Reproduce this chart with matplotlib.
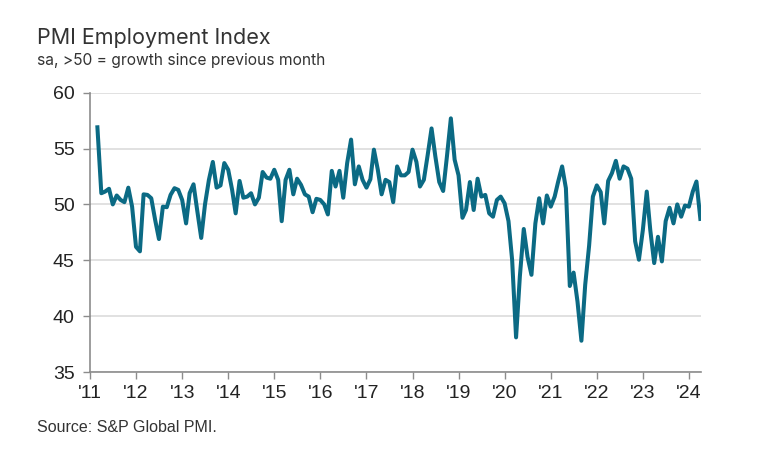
import pandas as pd
import matplotlib.pyplot as plt
import matplotlib.dates as mdates

# PMI 고용지수 (월별, 2011년 3월 ~ 2024년 4월)
start_month = '2011-03'
employment = [
    56.9, 51.0, 51.15, 51.4, 50.0, 50.8, 50.4, 50.2, 51.5, 49.8,
    46.2, 45.8, 50.9, 50.85, 50.55, 48.6, 46.9, 49.8, 49.75, 50.85,
    51.45, 51.3, 50.4, 48.3, 51.0, 51.8, 49.4, 47.0, 50.0, 52.2,
    53.8, 51.5, 51.7, 53.7, 53.1, 51.3, 49.2, 52.1, 50.6, 50.7,
    51.0, 50.0, 50.6, 52.9, 52.4, 52.3, 53.1, 52.2, 48.5, 52.2,
    53.1, 50.9, 52.3, 51.75, 50.9, 50.7, 49.3, 50.5, 50.4, 50.0,
    49.1, 53.0, 51.6, 53.0, 50.6, 53.7, 55.8, 51.8, 53.4, 52.2,
    51.5, 52.25, 54.9, 53.1, 50.9, 52.2, 52.0, 50.2, 53.4, 52.6,
    52.6, 52.9, 54.9, 53.8, 51.6, 52.2, 54.4, 56.8, 54.3, 52.0,
    51.2, 54.3, 57.7, 54.0, 52.6, 48.8, 49.5, 52.0, 49.5, 52.3,
    50.7, 50.85, 49.2, 48.9, 50.4, 50.7, 50.1, 48.5, 45.0, 38.1,
    43.55, 47.8, 45.3, 43.7, 48.3, 50.55, 48.3, 50.8, 49.8, 50.7,
    52.05, 53.4, 51.45, 42.7, 43.9, 41.3, 37.8, 42.8, 46.3, 50.7,
    51.7, 51.1, 48.3, 52.1, 52.8, 53.9, 52.3, 53.4, 53.2, 52.3,
    46.7, 45.05, 47.7, 51.15, 47.7, 44.75, 47.1, 44.9, 48.5, 49.7,
    48.3, 50.0, 48.9, 49.9, 49.8, 51.15, 52.05, 48.7,
]
year_ticks = list(range(2011, 2025))
year_labels = ["'" + str(y)[2:] for y in year_ticks]
y_ticks = [35, 40, 45, 50, 55, 60]

dates = pd.date_range(start_month, periods=len(employment), freq='MS')

line_color = '#0b6a84'
grid_color = '#dcdcdc'
spine_color = '#8c8c8c'
text_color = '#333333'
tick_font = ['Liberation Sans Narrow', 'Liberation Sans', 'DejaVu Sans']

fig = plt.figure(figsize=(7.65, 4.61), dpi=100)
ax = fig.add_axes([0.1176, 0.193, 0.7984, 0.606])

ax.plot(dates, employment, color=line_color, linewidth=2.9, solid_joinstyle='round')

ax.set_ylim(35, 60)
ax.set_yticks(y_ticks)
ax.set_xlim(pd.Timestamp('2011-01-01'), dates[-1] + pd.Timedelta(days=3))
ax.set_xticks([pd.Timestamp(f'{y}-01-01') for y in year_ticks])
ax.set_xticklabels(year_labels)

ax.grid(axis='y', color=grid_color, linewidth=1.2)
ax.set_axisbelow(True)
for side in ['top', 'right']:
    ax.spines[side].set_visible(False)
for side in ['left', 'bottom']:
    ax.spines[side].set_color(spine_color)
    ax.spines[side].set_linewidth(1.2)

ax.tick_params(axis='both', colors=spine_color, length=5, width=1.0, labelcolor='#222222')
ax.tick_params(axis='y', pad=6)
ax.tick_params(axis='x', pad=4)
for lbl in ax.get_xticklabels() + ax.get_yticklabels():
    lbl.set_family(tick_font)
    lbl.set_fontsize(14)

fig.text(0.048, 0.918, 'PMI Employment Index', fontsize=15.5, color=text_color,
         family=['Inter', 'DejaVu Sans'], va='center', ha='left')
fig.text(0.048, 0.869, 'sa, >50 = growth since previous month', fontsize=11.2,
         color=text_color, family=['Inter', 'DejaVu Sans'], va='center', ha='left')
fig.text(0.048, 0.072, 'Source: S&P Global PMI.', fontsize=11.5, color=text_color,
         family=tick_font, va='center', ha='left')

fig.savefig('out.png', dpi=100)
